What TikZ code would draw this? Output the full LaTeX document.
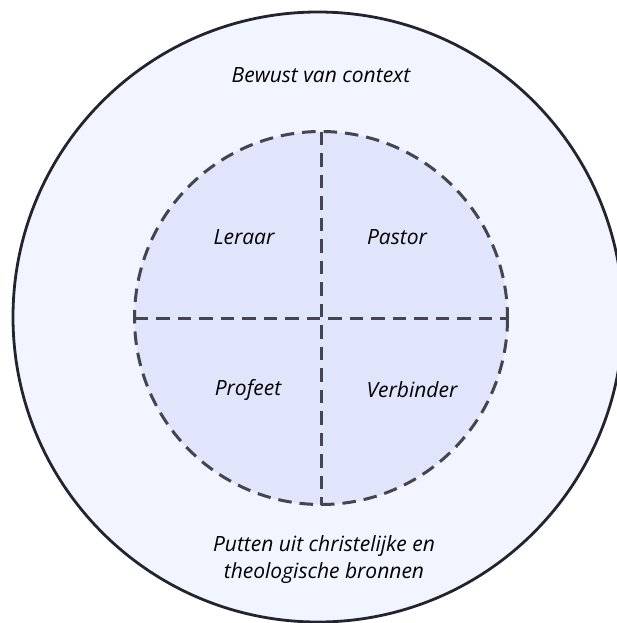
\documentclass[tikz,border=0pt]{standalone}
\usepackage{fontspec}
\setmainfont{Open Sans}
\definecolor{outerfill}{HTML}{F2F5FF}
\definecolor{innerfill}{HTML}{E1E5FB}
\definecolor{outerline}{HTML}{22252E}
\definecolor{dashline}{HTML}{45454D}
\begin{document}
\begin{tikzpicture}[x=1pt,y=-1pt,
  outercircle/.style={draw=outerline,fill=outerfill,line width=2.8pt},
  innercircle/.style={draw=dashline,fill=innerfill,line width=3pt,dash pattern=on 13.5pt off 8pt},
  divider/.style={draw=dashline,line width=3pt,dash pattern=on 13.5pt off 8pt},
  lbl/.style={font=\itshape\fontsize{21}{27}\selectfont,text=black,align=center,inner sep=0pt}]
\useasboundingbox (0,0) rectangle (617,623);
\begin{scope}
\clip (0,0) rectangle (617,623);
\draw[outercircle] (318,317) circle[radius=305];
\end{scope}
\draw[innercircle] (321,318) circle[radius=186.5];
\coordinate (vt) at (321,131.5);
\coordinate (vb) at (321,504.5);
\coordinate (hl) at (134.5,318);
\coordinate (hr) at (507.5,318);
\draw[divider] (vt) -- (vb);
\draw[divider] (hl) -- (hr);
\node[lbl] (ctx) at (321,75) {Bewust van context};
\node[lbl] (leraar) at (244,237) {Leraar};
\node[lbl] (pastor) at (397,237) {Pastor};
\node[lbl] (profeet) at (248,390) {Profeet};
\node[lbl] (verbinder) at (412,390) {Verbinder};
\node[lbl] (bron) at (324,560) {Putten uit christelijke en\\ theologische bronnen};
\end{tikzpicture}
\end{document}
